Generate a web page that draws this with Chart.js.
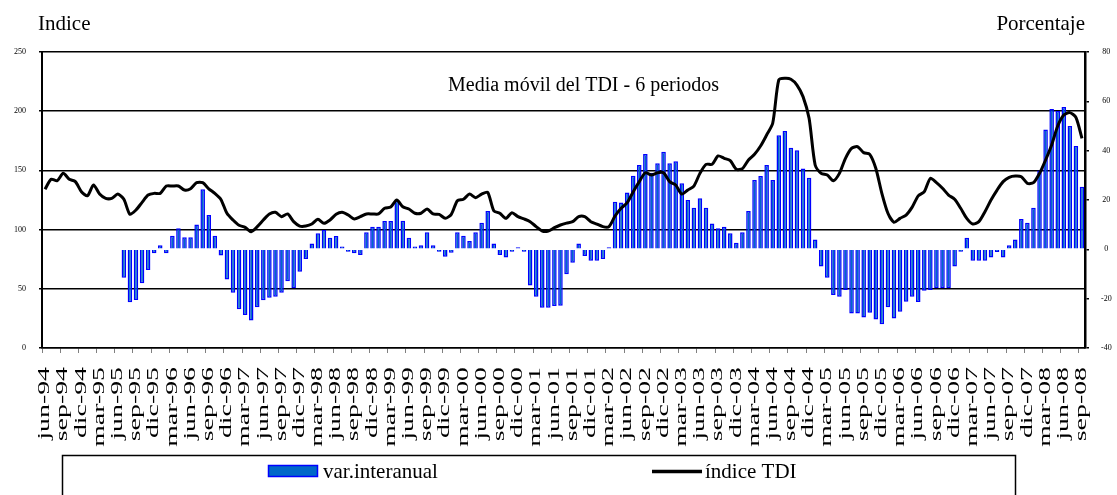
<!DOCTYPE html>
<html>
<head>
<meta charset="utf-8">
<script src="https://cdn.jsdelivr.net/npm/chart.js@4.4.1/dist/chart.umd.min.js"></script>
<style>
  html, body { margin: 0; padding: 0; background: #fff; }
  #wrap { position: relative; width: 1117px; height: 495px; }
</style>
</head>
<body>
<div id="wrap"><canvas id="tdiChart" width="1117" height="495"></canvas></div>
<script>
const serif = "'Liberation Serif', 'Times New Roman', serif";

// months jun-94 .. sep-08
const meses = ['ene', 'feb', 'mar', 'abr', 'may', 'jun', 'jul', 'ago', 'sep', 'oct', 'nov', 'dic'];
const categorias = [];
for (let anio = 1994; anio <= 2008; anio++) {
  for (let m = 0; m < 12; m++) {
    if (anio === 1994 && m < 5) continue;
    if (anio === 2008 && m > 8) break;
    categorias.push(meses[m] + '-' + String(anio).slice(2));
  }
}

// índice TDI (media móvil 6 periodos), eje izquierdo
const indiceTDI = [
  134, 142.5, 141.3, 147.5, 142.5, 140.5, 132, 128.6, 137.7, 130, 126.4, 126.4,
  130, 125.6, 112.9, 116.6, 123, 129.2, 130.6, 130.6, 136.8, 136.8, 136.8, 133.4,
  134.5, 139.6, 139.6, 134.5, 130.6, 125.5, 113.8, 108.1, 103.6, 101.9, 98.2, 102.5,
  108.1, 113.2, 114.6, 110.9, 113.2, 106.7, 103, 103, 104.7, 108.7, 105.3, 108.1,
  112.9, 114.6, 112.3, 109, 110.9, 113.2, 113.2, 113.2, 118, 119, 125, 119.3,
  117.4, 113.8, 113.8, 117.4, 113.2, 112.9, 109.5, 112.9, 124.4, 125.6, 130, 127,
  130, 131.5, 116, 113.8, 109.5, 114.3, 110.9, 109, 106.7, 102.5, 98.8, 98.8,
  101.6, 103.9, 105.5, 106.7, 110.9, 110.9, 106.7, 104.7, 102.5, 102.5, 111.5, 118,
  122.7, 132, 140.5, 148, 146.1, 148, 148, 140.5, 137.7, 130, 133.4, 136.8,
  147.5, 155.1, 155.1, 162.2, 160.2, 158.2, 150.9, 151.5, 158.8, 163.6, 170.6, 179.9,
  189.8, 226.4, 227.8, 227, 222.1, 212.3, 194, 154.6, 147.5, 146.1, 141.3, 147.5,
  160.2, 168.6, 170, 165, 163.6, 151.8, 130.6, 113.8, 106.2, 109.5, 112.3, 119,
  128.5, 132, 143.3, 139.6, 134.9, 129.2, 125.6, 118, 109.5, 104.7, 106.7, 115.1,
  125, 133.4, 140.5, 144.2, 145.3, 144.7, 139.1, 139.6, 147.5, 158.8, 171.5, 187.5,
  196.8, 198.8, 194.8, 177.1
];

// variación interanual (%), eje derecho
const varInteranual = [
  null, null, null, null, null, null, null, null, null, null, null, null,
  null, -11.5, -21.5, -20.5, -13.8, -8.4, -1.6, 1.7, -1.6, 5.5, 8.5, 4.9,
  4.9, 10.1, 24.4, 13.9, 5.5, -2.5, -12.2, -17.6, -24.3, -26.6, -28.9, -23.5,
  -20.6, -19.6, -19.2, -17.6, -12.9, -15.8, -9.1, -3.9, 2.4, 6.5, 7.8, 4.7,
  5.4, 1.1, -1, -1.6, -2.3, 6.9, 9.2, 9.2, 11.5, 11.5, 19.6, 11.6,
  4.7, 1.1, 1.7, 6.9, 1.7, -1, -3, -1.4, 6.9, 5.5, 3.4, 6.9,
  10.8, 15.5, 2.4, -2.3, -3.3, -1, 0.8, -1, -14.7, -19.2, -23.7, -23.7,
  -23, -22.9, -10.1, -5.4, 2.4, -2.7, -4.6, -4.6, -3.9, 0.8, 19.3, 19,
  23, 29.8, 34.2, 38.6, 31, 34.9, 39.6, 34.9, 35.7, 26.8, 20, 16.9,
  20.7, 16.9, 10.5, 8.5, 9.2, 6.5, 2.7, 6.9, 15.5, 28.1, 29.7, 34.2,
  28.1, 46.3, 48, 41.2, 40.2, 32.8, 29, 4, -7, -11.5, -18.5, -19.2,
  -16.5, -26, -26, -27.6, -25.7, -28.4, -30.4, -23.5, -28, -25.3, -21.2, -19.2,
  -21.4, -16.8, -16.5, -15.8, -15.8, -15.8, -7, -1, 4.7, -4.6, -4.6, -4.6,
  -3.3, -1.1, -3.3, 1.7, 4, 12.3, 10.8, 16.9, 32, 48.6, 56.9, 56.1,
  57.7, 50, 41.9, 25.4
];

const tituloIzq = 'Indice';
const tituloDer = 'Porcentaje';
const anotacion = 'Media móvil del TDI - 6 periodos';

// titles, rotated month labels and the boxed legend
const textos = {
  id: 'textos',
  afterDraw(chart) {
    const { ctx, chartArea, scales } = chart;
    const x = scales.x;
    ctx.save();
    ctx.fillStyle = '#000';
    ctx.textBaseline = 'alphabetic';
    ctx.font = '21px ' + serif;
    ctx.textAlign = 'left';
    ctx.fillText(tituloIzq, 38, 30);
    ctx.textAlign = 'right';
    ctx.fillText(tituloDer, 1085, 30);
    ctx.font = '20px ' + serif;
    ctx.textAlign = 'left';
    ctx.fillText(anotacion, 448, 91);

    // one label every three months, reading upwards
    ctx.font = '16px ' + serif;
    ctx.textAlign = 'right';
    ctx.textBaseline = 'middle';
    categorias.forEach((lab, i) => {
      if (i % 3) return;
      ctx.save();
      ctx.translate(x.getPixelForValue(i), chartArea.bottom + 19);
      ctx.rotate(-Math.PI / 2);
      ctx.scale(1.74, 1);
      ctx.fillText(lab, 0, 0);
      ctx.restore();
    });

    // legend
    const barras = chart.data.datasets.find(d => d.type === 'bar');
    const linea = chart.data.datasets.find(d => d.type === 'line');
    ctx.lineWidth = 1.5;
    ctx.strokeStyle = '#000';
    ctx.strokeRect(62.5, 455.5, 953, 60);
    ctx.fillStyle = barras.backgroundColor;
    ctx.fillRect(268, 465, 50, 12);
    ctx.strokeStyle = barras.borderColor;
    ctx.strokeRect(268.5, 465.5, 49, 11);
    ctx.beginPath();
    ctx.moveTo(652, 471.5);
    ctx.lineTo(702, 471.5);
    ctx.lineWidth = 3.5;
    ctx.strokeStyle = linea.borderColor;
    ctx.stroke();
    ctx.fillStyle = '#000';
    ctx.font = '21px ' + serif;
    ctx.textAlign = 'left';
    ctx.textBaseline = 'middle';
    ctx.fillText(barras.label, 323, 472);
    ctx.fillText(linea.label, 705, 472);
    ctx.restore();
  }
};

Chart.defaults.font.family = serif;
Chart.defaults.color = '#000';

const ctx = document.getElementById('tdiChart').getContext('2d');
new Chart(ctx, {
  type: 'bar',
  data: {
    labels: categorias,
    datasets: [
      {
        type: 'line',
        label: 'índice TDI',
        data: indiceTDI,
        yAxisID: 'y',
        borderColor: '#000000',
        borderWidth: 3,
        pointRadius: 0,
        tension: 0.25,
        order: 1
      },
      {
        type: 'bar',
        label: 'var.interanual',
        data: varInteranual,
        yAxisID: 'y1',
        backgroundColor: '#0068c8',
        borderColor: '#0000ff',
        borderWidth: 1.5,
        barPercentage: 0.75,
        categoryPercentage: 1,
        order: 2
      }
    ]
  },
  options: {
    responsive: false,
    animation: false,
    layout: { padding: { top: 52, left: 0, right: 0, bottom: 0 } },
    plugins: {
      legend: { display: false },
      tooltip: { enabled: false }
    },
    scales: {
      x: {
        offset: true,
        grid: {
          drawOnChartArea: false,
          drawTicks: true,
          tickLength: 5,
          tickWidth: 1,
          tickColor: c => (c.index % 3 === 0 ? '#808080' : 'rgba(0,0,0,0)')
        },
        border: { color: '#000', width: 1.5 },
        ticks: { display: false, autoSkip: false },
        afterFit: s => { s.height = 147; }
      },
      y: {
        position: 'left',
        min: 0,
        max: 250,
        ticks: { stepSize: 50, font: { size: 8 }, padding: 13, color: '#000' },
        grid: { color: '#000', lineWidth: 1.5, tickLength: 3 },
        border: { color: '#000', width: 2 },
        afterFit: s => { s.width = 42; }
      },
      y1: {
        position: 'right',
        min: -40,
        max: 80,
        ticks: { stepSize: 20, font: { size: 8 }, padding: 12, crossAlign: 'center', color: '#000' },
        grid: { drawOnChartArea: false, color: '#000', tickLength: 4, lineWidth: 1.5 },
        border: { color: '#000', width: 2.5 },
        afterFit: s => { s.width = 32; }
      }
    }
  },
  plugins: [textos]
});
</script>
</body>
</html>
